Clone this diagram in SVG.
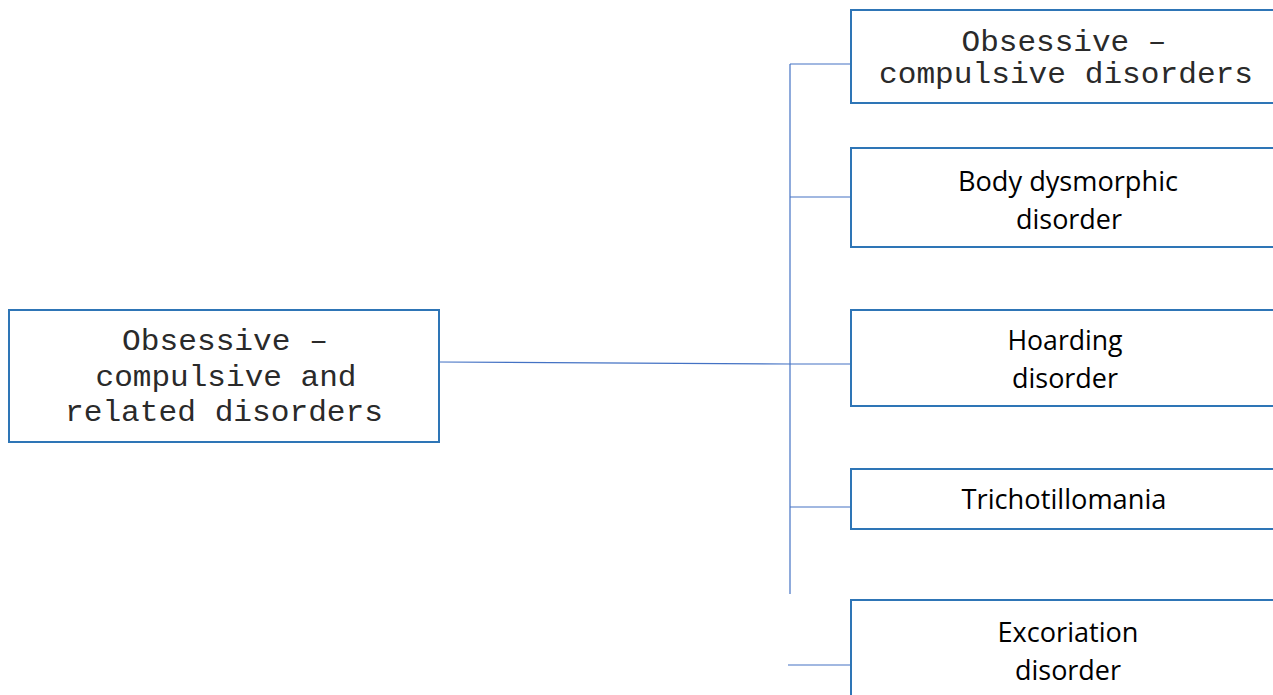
<svg xmlns="http://www.w3.org/2000/svg" width="1273" height="695" viewBox="0 0 1273 695">
<style>
.box{fill:#fff;stroke:#2E75B6;stroke-width:2}
.con{fill:none;stroke:#4472C4;stroke-width:1.2}
.mono{font-family:"Liberation Mono","Courier New",monospace;font-size:29px;fill:#2a2a2a;text-anchor:middle}
.sans{font-family:"Open Sans","Liberation Sans",sans-serif;font-size:27px;fill:#000;text-anchor:middle}
</style>
<rect width="1273" height="695" fill="#fff"/>
<g id="connectors">
<line class="con" x1="790" y1="64" x2="790" y2="594"/>
<line class="con" x1="439" y1="362" x2="790" y2="364"/>
<line class="con" x1="790" y1="64" x2="851" y2="64"/>
<line class="con" x1="790" y1="197" x2="853" y2="197"/>
<line class="con" x1="790" y1="364" x2="851" y2="364"/>
<line class="con" x1="790" y1="507" x2="851" y2="507"/>
<line class="con" x1="788" y1="665" x2="851" y2="665"/>
</g>
<g id="root">
<rect class="box" x="9" y="310" width="430" height="132"/>
<text class="mono" x="225" y="350" textLength="206" lengthAdjust="spacingAndGlyphs">Obsessive –</text>
<text class="mono" x="226" y="386" textLength="261" lengthAdjust="spacingAndGlyphs">compulsive and</text>
<text class="mono" x="224" y="421" textLength="318" lengthAdjust="spacingAndGlyphs">related disorders</text>
</g>
<g id="ocd">
<rect class="box" x="851" y="10" width="440" height="93"/>
<text class="mono" x="1064" y="51" textLength="205" lengthAdjust="spacingAndGlyphs">Obsessive –</text>
<text class="mono" x="1066" y="83" textLength="374" lengthAdjust="spacingAndGlyphs">compulsive disorders</text>
</g>
<g id="bdd">
<rect class="box" x="851" y="148" width="440" height="99"/>
<text class="sans" x="1068" y="191" textLength="220" lengthAdjust="spacingAndGlyphs">Body dysmorphic</text>
<text class="sans" x="1069" y="229" textLength="106" lengthAdjust="spacingAndGlyphs">disorder</text>
</g>
<g id="hoarding">
<rect class="box" x="851" y="310" width="440" height="96"/>
<text class="sans" x="1065" y="350" textLength="115" lengthAdjust="spacingAndGlyphs">Hoarding</text>
<text class="sans" x="1065" y="388" textLength="106" lengthAdjust="spacingAndGlyphs">disorder</text>
</g>
<g id="tricho">
<rect class="box" x="851" y="469" width="440" height="60"/>
<text class="sans" x="1064" y="509" textLength="205" lengthAdjust="spacingAndGlyphs">Trichotillomania</text>
</g>
<g id="excoriation">
<rect class="box" x="851" y="600" width="440" height="120"/>
<text class="sans" x="1068" y="642" textLength="141" lengthAdjust="spacingAndGlyphs">Excoriation</text>
<text class="sans" x="1068" y="680" textLength="106" lengthAdjust="spacingAndGlyphs">disorder</text>
</g>
</svg>
